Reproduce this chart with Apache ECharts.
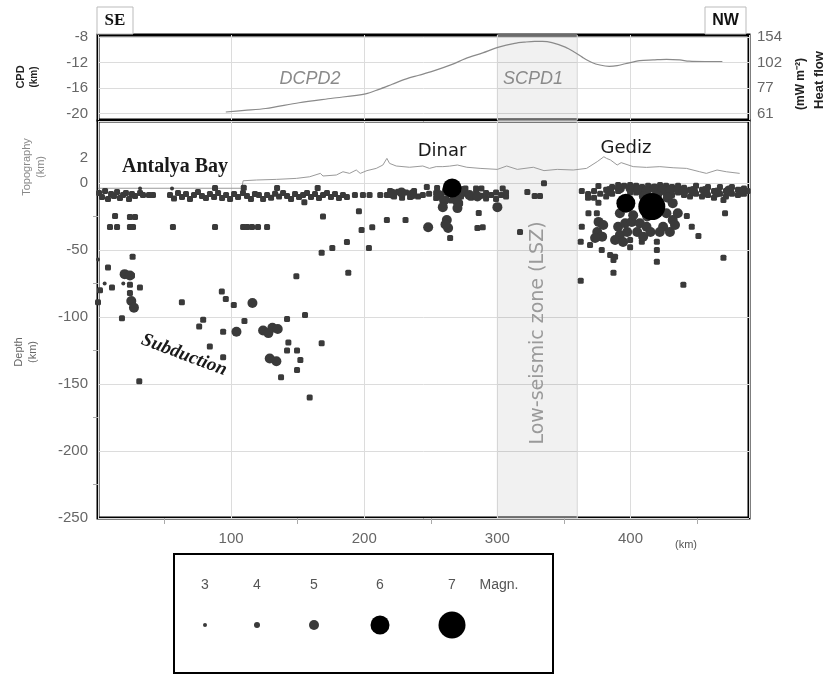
<!DOCTYPE html>
<html><head><meta charset="utf-8">
<script src="https://cdn.jsdelivr.net/npm/echarts@6/dist/echarts.min.js"></script>
<style>html,body{margin:0;padding:0;background:#fff}#c{width:827px;height:675px}</style>
</head><body><div id="c"></div>
<script>
// ---------- data ----------
const xTickLabels = [100, 200, 300, 400];
const xMinorTicks = [50, 150, 250, 350, 450];
const depthMinorTicks = [-225, -175, -125, -75, -25];
const cpdTicks = [-8, -12, -16, -20];
const heatFlowLabels = ['154', '102', '77', '61'];
const topoTicks = [0, 2];
const lszRange = [300, 360];

// Curie point depth profile (km along profile, CPD in km)
const cpdKm  = [96, 110, 126, 151, 176, 201, 211, 221, 231, 241, 251, 266, 276, 289, 301, 313, 321, 328, 334, 341, 351, 358, 364, 371, 377, 384, 390, 396, 407, 417, 427, 437, 444, 456, 469];
const cpdVal = [-19.75, -19.5, -19.2, -18.3, -17.6, -16.9, -16.2, -15.4, -14.6, -14.0, -13.4, -12.3, -11.4, -10.5, -9.6, -9.0, -8.8, -8.7, -8.7, -8.9, -9.6, -10.4, -11.2, -12.0, -12.4, -12.6, -12.5, -12.2, -11.7, -11.6, -11.5, -11.6, -11.8, -11.85, -11.85];

// Topography profile (km along profile, elevation in km)
const topoKm  = [0, 108, 109, 119, 134, 149, 159, 167, 169, 179, 184, 189, 194, 197, 202, 209, 214, 217, 219, 224, 234, 244, 249, 254, 259, 264, 270, 277, 287, 300, 307, 315, 327, 335, 345, 357, 367, 375, 380, 382, 385, 390, 393, 402, 412, 422, 432, 442, 452, 457, 465, 472, 482];
const topoVal = [-0.42, -0.42, 0.18, 0.24, 0.29, 0.37, 0.5, 0.77, 0.56, 0.64, 0.9, 0.77, 1.04, 0.77, 0.99, 1.17, 1.44, 1.97, 1.57, 1.36, 1.26, 1.36, 1.17, 1.31, 1.31, 1.35, 1.44, 1.26, 1.17, 1.09, 1.36, 1.09, 1.26, 0.99, 1.09, 1.04, 1.17, 1.71, 2.1, 1.97, 1.84, 1.44, 1.63, 1.31, 1.25, 1.31, 1.22, 1.17, 0.9, 0.77, 1.04, 0.9, 0.77];

// Earthquakes [km, depth] by magnitude class
const quakesM3 = [[0, -57], [5, -75], [19, -75], [31.6, -4], [55.6, -4]];
const quakesM4 = [
  [0.8, -7.5], [3, -10.4], [5.3, -6], [7.5, -11.9], [9.8, -8.2], [12, -9.7], [14.3, -6.7], [16.5, -11.2], [18.8, -9], [21, -7.5], [23.3, -11.9], [25.5, -8.2], [27.8, -9.7],
  [31.6, -7.5], [33.8, -9], [38.3, -9], [41.3, -9],
  [54.1, -9], [57.1, -11.5], [60.1, -7.5], [63.1, -10.4], [66.1, -8.2], [69.1, -12], [72.1, -9], [75.1, -6.7], [78.1, -9.7], [81.1, -11.2], [84.1, -8.2], [87.2, -10.4], [87.9, -3.7], [90.2, -7.5], [93.2, -11.2], [96.2, -9], [99.2, -12], [102.2, -8.2], [105.2, -10.4], [108.9, -7.5], [109.5, -3.5], [111.9, -9.7], [114.9, -11.9], [117.9, -8.2], [120.9, -9], [124, -12],
  [127, -9], [130, -11], [133, -8], [134.5, -3.7], [136, -10], [139, -7.5], [142, -9.7], [145, -12], [148, -8.2], [151, -10.4], [154, -9], [155, -14.4], [157, -7.5], [160, -10.4], [163, -8.2], [165, -3.7], [166, -11.2], [169, -9], [172, -7.5], [175, -10.4], [178, -8.2], [181, -11.2], [184, -9], [187, -10.4],
  [193, -9], [199, -9], [204, -9], [212, -9], [217, -9],
  [219.4, -6], [222.4, -10], [225.4, -6.5], [228.4, -11], [231.4, -7], [234.4, -10.5], [237.4, -6], [240.4, -10], [244, -9], [248.7, -8], [247, -3], [254.7, -3.7],
  [254, -7.5], [254, -11.2], [257.7, -9], [261.5, -12], [265.2, -13], [269, -7.5], [272.7, -10], [276.5, -8], [276, -4], [280.2, -11], [284, -7], [284, -4], [287.8, -9.5], [288, -4], [291.5, -7.5], [291.5, -11.5], [295.3, -9], [299, -7], [299, -12], [302.8, -9], [304, -4], [306.5, -10], [306.5, -7],
  [12.8, -24.6], [9, -32.8], [14.3, -32.8], [24, -25.4], [27.8, -25.4], [24, -32.8], [26.3, -32.8], [56.3, -32.8], [87.9, -32.8], [109, -32.8], [112, -32.8], [115.7, -32.8], [120.2, -32.8], [127, -32.8],
  [7.5, -63], [26, -55], [25.5, -69], [10.5, -78], [1.5, -80], [24, -76], [31.5, -78], [24, -82], [0, -89], [18, -101], [63, -89], [93, -81], [96, -86.5], [102, -91], [79, -102], [76, -107], [110, -103], [94, -111], [84, -122], [94, -130], [31, -148], [142, -101.5], [155.5, -98.5], [149, -69.5], [143, -119], [149.5, -125], [142, -125], [152, -132], [149.5, -139.5], [137.5, -145], [159, -160], [168, -119.5],
  [168, -52], [176, -48.5], [187, -44], [188, -67], [198, -35], [206, -33], [203.5, -48.5], [196, -21], [169, -25], [217, -27.6], [231, -27.6],
  [264.5, -41], [272, -15], [286, -22.4], [285, -33.6], [289, -33], [317, -36.6],
  [322.5, -6.7], [328, -9.7], [332, -9.7], [335, -0.2],
  [368.1, -8.2], [368.1, -11], [372.6, -6], [372.6, -11], [375.9, -2.2], [377.2, -8], [381.7, -5], [381.7, -10], [386.2, -3], [386.2, -8], [390.7, -1.5], [390.7, -6], [395.2, -2], [399.7, -1.5], [399.7, -7], [404.2, -2], [404.2, -7], [408.7, -3], [408.7, -8], [413.2, -2], [417.7, -3], [422.2, -1.5], [422.2, -7], [426.7, -2], [426.7, -8], [431.2, -3], [431.2, -9], [435.7, -2], [435.7, -7], [440.2, -3.5], [440.2, -9], [444.7, -5], [444.7, -10], [449.2, -2], [449.2, -8], [453.7, -5], [453.7, -10], [458.2, -3], [458.2, -9], [462.7, -6], [462.7, -11], [467.2, -3], [467.2, -8], [471.7, -6], [471.7, -10], [476.2, -3], [476.2, -8], [480.7, -5], [480.7, -9], [485.2, -4], [485.2, -8], [488, -6],
  [363.4, -6], [375.9, -14.7], [368.4, -22.6], [374.7, -22.6], [363.4, -32.6], [362.6, -43.8], [369.6, -46.3], [378.4, -50], [384.7, -53.7], [387.2, -57.5], [388.4, -55], [387.2, -67], [362.6, -73], [399.7, -42.5], [399.7, -48], [408.5, -43.8], [419.8, -43.8], [419.8, -50], [419.8, -58.7], [439.7, -76], [442.3, -24.6], [446, -32.6], [451, -39.6], [469.8, -12.7], [471, -22.6], [469.8, -55.7]
];
const quakesM5 = [
  [20, -68], [24, -69], [25, -88], [27, -93], [116, -89.5], [104, -111], [124, -110], [128, -112], [131, -108], [135, -109], [134, -133], [129, -131],
  [221, -8], [228, -7], [236, -8.5],
  [256, -9], [262, -6], [268, -11], [274, -6], [279, -9], [285, -10], [260, -13], [270, -14], [248, -33], [262, -27.6], [263, -33.6], [261, -31], [259, -18], [270, -18.7], [300, -18],
  [384, -6], [392, -4], [400, -4], [406, -5], [412, -6], [418, -4], [424, -5], [430, -5], [436, -5], [410, -10], [420, -9], [428, -11], [440, -6], [447, -6], [456, -6], [465, -7], [474, -5.5], [483, -6.5],
  [376, -29], [379.5, -31.3], [375, -36.6], [378.7, -40], [373.4, -41], [390.7, -32.6], [396, -30], [401, -29], [407, -30], [412, -32.6], [392, -38.8], [388.4, -42.5], [397.5, -36.6], [405, -36.6], [415, -36.6], [409.5, -40], [394.4, -44], [427, -22.6], [431.7, -27.6], [424.5, -32.6], [429.6, -36.6], [433.4, -31.3], [422, -36.6], [431.7, -15], [435.5, -22.6], [402, -24], [412.5, -25], [392, -22.6]
];
const quakesM6 = [[266, -3.7], [396.5, -15]];
const quakesM7 = [[416, -17.6]];

const legendMagnitudes = [3, 4, 5, 6, 7];

// ---------- styles ----------
const SIZE  = {3: 4, 4: 6, 5: 10, 6: 19, 7: 27};
const COLOR = {3: '#3a3a3a', 4: '#3a3a3a', 5: '#3a3a3a', 6: '#000', 7: '#000'};
const SHAPE = {3: 'circle', 4: 'roundRect', 5: 'circle', 6: 'circle', 7: 'circle'};
const quakeSets = {3: quakesM3, 4: quakesM4, 5: quakesM5, 6: quakesM6, 7: quakesM7};
const legendX = {3: 205, 4: 257, 5: 314, 6: 380, 7: 452};

const lab = {color: '#666', fontSize: 15, fontFamily: 'Liberation Sans'};
const grid = {color: '#dcdcdc', width: 1};
const lszArea = {
  silent: true,
  itemStyle: {color: 'rgba(0,0,0,0.055)', borderColor: '#d6d6d6', borderWidth: 1},
  data: [[{xAxis: lszRange[0]}, {xAxis: lszRange[1]}]]
};

const chart = echarts.init(document.getElementById('c'));

const series = [
  {type: 'line', xAxisIndex: 0, yAxisIndex: 0, data: cpdKm.map((k, i) => [k, cpdVal[i]]),
   symbol: 'none', smooth: 0.3, lineStyle: {color: '#8a8a8a', width: 1.2}, markArea: lszArea, z: 3},
  {type: 'line', xAxisIndex: 1, yAxisIndex: 3, data: topoKm.map((k, i) => [k, topoVal[i]]),
   symbol: 'none', lineStyle: {color: '#9a9a9a', width: 1}, markArea: lszArea, z: 3}
];
legendMagnitudes.forEach(m => {
  series.push({type: 'scatter', xAxisIndex: 1, yAxisIndex: 2, data: quakeSets[m],
    symbol: SHAPE[m], symbolSize: SIZE[m], itemStyle: {color: COLOR[m], opacity: 1}, z: 4 + m, silent: true});
});

const T = (text, x, y, font, fill, rot, align) => ({
  type: 'text', x: x, y: y, rotation: rot || 0, z: 100,
  style: {text: text, font: font, fill: fill, align: align || 'center', verticalAlign: 'middle',
          textAlign: align || 'center', textVerticalAlign: 'middle'}
});

const graphics = [
  {type: 'rect', shape: {x: 97, y: 7, width: 36, height: 27}, style: {fill: '#fff', stroke: '#bbb', lineWidth: 1}, z: 90},
  T('SE', 115, 21, 'bold 17px "Liberation Serif"', '#111'),
  {type: 'rect', shape: {x: 705, y: 7, width: 41, height: 27}, style: {fill: '#fff', stroke: '#bbb', lineWidth: 1}, z: 90},
  T('NW', 725.5, 21, 'bold 16px "Liberation Sans"', '#111'),
  T('CPD', 21, 77, 'bold 11px "Liberation Sans"', '#222', Math.PI / 2),
  T('(km)', 34, 77, 'bold 10px "Liberation Sans"', '#222', Math.PI / 2),
  T('(mW m⁻²)', 801, 84, 'bold 12px "Liberation Sans"', '#222', Math.PI / 2),
  T('Heat flow', 819, 80, 'bold 13px "Liberation Sans"', '#222', Math.PI / 2),
  T('Topography', 27, 167, '11px "Liberation Sans"', '#888', Math.PI / 2),
  T('(km)', 41, 167, '11px "Liberation Sans"', '#888', Math.PI / 2),
  T('Depth', 19, 352, '11px "Liberation Sans"', '#666', Math.PI / 2),
  T('(km)', 33, 352, '11px "Liberation Sans"', '#666', Math.PI / 2),
  T('DCPD2', 310, 79, 'italic 18px "Liberation Sans"', '#8a8a8a'),
  T('SCPD1', 533, 79, 'italic 18px "Liberation Sans"', '#8a8a8a'),
  T('Antalya Bay', 175, 167, 'bold 20px "Liberation Serif"', '#1a1a1a'),
  T('Dinar', 442, 151, '18px "DejaVu Sans"', '#1a1a1a'),
  T('Gediz', 626, 148, '18px "DejaVu Sans"', '#1a1a1a'),
  T('Subduction', 184, 355, 'bold italic 19px "Liberation Serif"', '#1a1a1a', -0.36),
  T('Low-seismic zone (LSZ)', 538, 333, '19px "DejaVu Sans"', '#9a9a9a', Math.PI / 2),
  T('(km)', 686, 545, '11px "Liberation Sans"', '#555'),
  {type: 'rect', shape: {x: 174, y: 554, width: 379, height: 119}, style: {fill: '#fff', stroke: '#000', lineWidth: 2}, z: 90},
  T('Magn.', 499, 585, '14px "Liberation Sans"', '#555')
];
legendMagnitudes.forEach(m => {
  graphics.push(T(String(m), legendX[m], 585, '14px "Liberation Sans"', '#555'));
  graphics.push({type: 'circle', shape: {cx: legendX[m], cy: 625, r: SIZE[m] / 2}, style: {fill: COLOR[m]}, z: 100});
});

chart.setOption({
  animation: false,
  backgroundColor: '#fff',
  grid: [
    {left: 98, right: 78, top: 35, height: 85, show: true, borderColor: '#000', borderWidth: 3},
    {left: 98, right: 78, top: 121, height: 397, show: true, borderColor: '#000', borderWidth: 3}
  ],
  xAxis: [
    {gridIndex: 0, type: 'value', position: 'bottom', min: 0, max: 489, interval: 100,
     axisLine: {show: false, onZero: false}, axisTick: {show: false}, axisLabel: {show: false},
     splitLine: {show: true, lineStyle: grid}},
    {gridIndex: 1, type: 'value', position: 'bottom', min: 0, max: 489, interval: 100,
     axisLine: {show: false, onZero: false}, axisTick: {show: false},
     axisLabel: Object.assign({}, lab, {margin: 13, showMinLabel: false, showMaxLabel: false,
       formatter: v => xTickLabels.includes(v) ? String(v) : ''}),
     splitLine: {show: true, lineStyle: grid}},
    {gridIndex: 1, type: 'value', position: 'bottom', min: 0, max: 489,
     axisLine: {show: false, onZero: false}, axisLabel: {show: false}, splitLine: {show: false},
     axisTick: {show: true, length: 6, customValues: xMinorTicks, lineStyle: {color: '#aaa'}}}
  ],
  yAxis: [
    {gridIndex: 0, type: 'value', position: 'left', min: -21, max: -7.7,
     axisLine: {show: false, onZero: false}, axisTick: {show: false, customValues: cpdTicks},
     axisLabel: Object.assign({}, lab, {margin: 10, customValues: cpdTicks}),
     splitLine: {show: true, lineStyle: grid}},
    {gridIndex: 0, type: 'value', position: 'right', min: -21, max: -7.7,
     axisLine: {show: false, onZero: false}, axisTick: {show: false, customValues: cpdTicks},
     axisLabel: Object.assign({}, lab, {margin: 8, customValues: cpdTicks,
       formatter: v => heatFlowLabels[cpdTicks.indexOf(v)] || ''}),
     splitLine: {show: false}},
    {gridIndex: 1, type: 'value', position: 'left', min: -250, max: 46.3, interval: 50,
     axisLine: {show: false, onZero: false}, axisTick: {show: false},
     axisLabel: Object.assign({}, lab, {margin: 10, showMaxLabel: false, formatter: v => v < 0 ? String(v) : ''}),
     splitLine: {show: true, lineStyle: grid}},
    {gridIndex: 1, type: 'value', position: 'left', offset: 0, min: -26.8, max: 4.96,
     axisLine: {show: false, onZero: false}, axisTick: {show: false, customValues: topoTicks},
     axisLabel: Object.assign({}, lab, {margin: 10, customValues: topoTicks}),
     splitLine: {show: false}},
    {gridIndex: 1, type: 'value', position: 'left', offset: 0, min: -250, max: 46.3,
     axisLine: {show: false, onZero: false}, axisLabel: {show: false}, splitLine: {show: false},
     axisTick: {show: true, length: 5, customValues: depthMinorTicks, lineStyle: {color: '#aaa'}}}
  ],
  series: series,
  graphic: graphics
});
</script>
</body></html>
